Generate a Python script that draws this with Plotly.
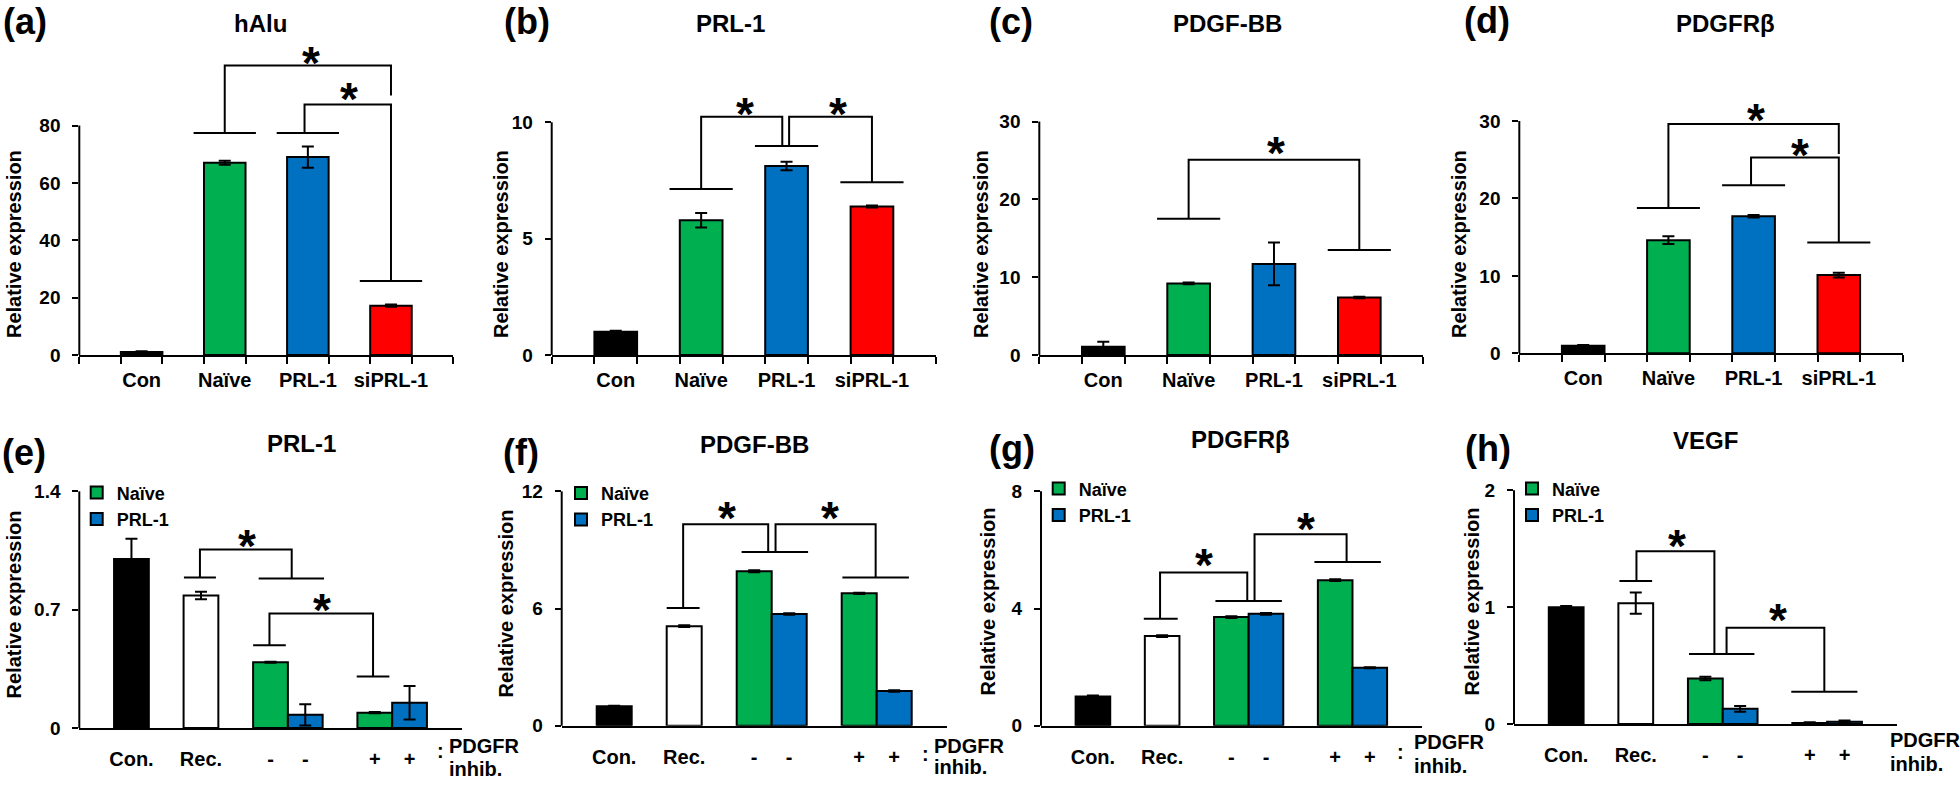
import plotly.graph_objects as go

W, H = 1960, 789
FONT = "'Liberation Sans', Arial, Helvetica, sans-serif"
GREEN, BLUE, RED, BLACK, WHITE = "#00B050", "#0070C0", "#FF0000", "#000000", "#FFFFFF"

# ---------------- data: top row (a)-(d) ----------------
top_categories = ["Con", "Naïve", "PRL-1", "siPRL-1"]
top_colors = [BLACK, GREEN, BLUE, RED]

a_title = "hAlu"
a_mean = [1.0, 67.0, 69.0, 17.2]
a_err = [0.3, 0.7, 3.7, 0.4]
b_title = "PRL-1"
b_mean = [1.0, 5.79, 8.12, 6.38]
b_err = [0.04, 0.31, 0.18, 0.04]
c_title = "PDGF-BB"
c_mean = [1.05, 9.2, 11.7, 7.4]
c_err = [0.65, 0.1, 2.75, 0.1]
d_title = "PDGFRβ"
d_mean = [0.98, 14.6, 17.7, 10.1]
d_err = [0.1, 0.5, 0.15, 0.3]

# ---------------- data: bottom row (e)-(h) ----------------
bottom_labels = ["Con.", "Rec.", "-", "-", "+", "+"]
bottom_pos = [1.5, 3.5, 5.5, 6.5, 8.5, 9.5]
series_names = ["Naïve", "PRL-1"]

e_title = "PRL-1"
e_mean = [1.0, 0.784, 0.389, 0.078, 0.091, 0.15]
e_err = [0.12, 0.022, 0.003, 0.063, 0.003, 0.099]
f_title = "PDGF-BB"
f_mean = [1.0, 5.1, 7.91, 5.72, 6.78, 1.78]
f_err = [0.02, 0.05, 0.05, 0.04, 0.03, 0.04]
g_title = "PDGFRβ"
g_mean = [1.0, 3.06, 3.71, 3.82, 4.97, 1.98]
g_err = [0.03, 0.03, 0.03, 0.03, 0.03, 0.02]
h_title = "VEGF"
h_mean = [1.0, 1.035, 0.39, 0.13, 0.01, 0.02]
h_err = [0.01, 0.09, 0.015, 0.025, 0.005, 0.01]

# ---------------- significance brackets (data coordinates) ----------------
# caps: (x centre, half width, y); legs: polylines; stars: (x, y)
a_caps = [(1, 0.375, 77.4), (2, 0.375, 77.4), (3, 0.375, 25.8)]
a_legs = [[(1, 77.4), (1, 100.9), (3, 100.9), (3, 90.5)],
          [(1.96, 77.4), (1.96, 87.3), (3, 87.3), (3, 25.8)]]
a_stars = [(2.04, 105.4), (2.5, 92.8)]

b_caps = [(1, 0.37, 7.13), (2, 0.37, 8.98), (3, 0.37, 7.42)]
b_legs = [[(1, 7.13), (1, 10.24), (1.95, 10.24), (1.95, 8.98)],
          [(2.03, 8.98), (2.03, 10.24), (3, 10.24), (3, 7.42)]]
b_stars = [(1.51, 10.8), (2.6, 10.8)]

c_caps = [(1, 0.37, 17.5), (3, 0.37, 13.5)]
c_legs = [[(1, 17.5), (1, 25.1), (3, 25.1), (3, 13.5)]]
c_stars = [(2.02, 27.2)]

d_caps = [(1, 0.37, 18.75), (2, 0.37, 21.7), (3, 0.37, 14.3)]
d_legs = [[(1, 18.75), (1, 29.6), (3, 29.6), (3, 25.75)],
          [(1.97, 21.7), (1.97, 25.3), (3, 25.3), (3, 14.3)]]
d_stars = [(2.03, 31.4), (2.55, 26.9)]

e_caps = [(3.47, 0.46, 0.89), (6.1, 0.94, 0.885), (5.47, 0.47, 0.49), (8.45, 0.47, 0.305)]
e_legs = [[(3.47, 0.89), (3.47, 1.056), (6.11, 1.056), (6.11, 0.885)],
          [(5.47, 0.49), (5.47, 0.677), (8.45, 0.677), (8.45, 0.305)]]
e_stars = [(4.83, 1.137), (6.97, 0.758)]

f_caps = [(3.47, 0.47, 6.03), (6.09, 0.95, 8.89), (8.97, 0.95, 7.59)]
f_legs = [[(3.47, 6.03), (3.47, 10.32), (5.9, 10.32), (5.9, 8.89)],
          [(6.11, 8.89), (6.11, 10.32), (8.97, 10.32), (8.97, 7.59)]]
f_stars = [(4.73, 11.16), (7.67, 11.16)]

g_caps = [(3.46, 0.49, 3.65), (6.0, 0.96, 4.26), (8.86, 0.96, 5.59)]
g_legs = [[(3.44, 3.65), (3.44, 5.23), (5.96, 5.23), (5.96, 4.26)],
          [(6.17, 4.26), (6.17, 6.54), (8.83, 6.54), (8.83, 5.59)]]
g_stars = [(4.70, 5.84), (7.66, 7.05)]

h_caps = [(3.5, 0.47, 1.224), (5.97, 0.94, 0.6), (8.92, 0.95, 0.276)]
h_legs = [[(3.52, 1.224), (3.52, 1.48), (5.76, 1.48), (5.76, 0.6)],
          [(6.11, 0.6), (6.11, 0.824), (8.92, 0.824), (8.92, 0.276)]]
h_stars = [(4.69, 1.61), (7.58, 0.98)]

# ---------------- layout geometry (pixels) ----------------
geom = {
    1: dict(xl=79.3, xr=453.3, y0=360.0, yt=127.3, top=40),
    2: dict(xl=551.7, xr=936.0, y0=360.0, yt=124.0, top=40),
    3: dict(xl=1039.3, xr=1423.3, y0=360.0, yt=123.3, top=40),
    4: dict(xl=1519.3, xr=1902.7, y0=358.3, yt=122.7, top=40),
    5: dict(xl=79.3, xr=461.7, y0=738.3, yt=498.3, top=470),
    6: dict(xl=561.7, xr=946.7, y0=736.0, yt=498.3, top=470),
    7: dict(xl=1041.0, xr=1421.7, y0=736.0, yt=498.3, top=470),
    8: dict(xl=1514.0, xr=1896.7, y0=734.3, yt=497.3, top=470),
}

panels = [
    # k, letter, title, mean, err, yticks, caps, legs, stars, letter_xy, title_xy, ytitle_xy
    (1, "(a)", a_title, a_mean, a_err, [0, 20, 40, 60, 80], a_caps, a_legs, a_stars, (25, 22), (260, 24), (14, 247.5)),
    (2, "(b)", b_title, b_mean, b_err, [0, 5, 10], b_caps, b_legs, b_stars, (527, 22), (730, 24), (501, 247.5)),
    (3, "(c)", c_title, c_mean, c_err, [0, 10, 20, 30], c_caps, c_legs, c_stars, (1011, 22), (1227.5, 24), (981, 247.5)),
    (4, "(d)", d_title, d_mean, d_err, [0, 10, 20, 30], d_caps, d_legs, d_stars, (1487, 21), (1725, 24), (1459, 247.5)),
    (5, "(e)", e_title, e_mean, e_err, [0, 0.7, 1.4], e_caps, e_legs, e_stars, (24, 459), (301.7, 450), (14, 613)),
    (6, "(f)", f_title, f_mean, f_err, [0, 6, 12], f_caps, f_legs, f_stars, (521, 459), (754, 451), (506, 612)),
    (7, "(g)", g_title, g_mean, g_err, [0, 4, 8], g_caps, g_legs, g_stars, (1012, 455), (1240.8, 446), (988, 610)),
    (8, "(h)", h_title, h_mean, h_err, [0, 1, 2], h_caps, h_legs, h_stars, (1488, 455), (1705, 446.7), (1472, 610)),
]

# legend placement: (square left px, first item centre px)
legend_pos = {5: (90.7, 494), 6: (575, 494.5), 7: (1052.7, 490), 8: (1526, 490)}
# "PDGFR inhib." label placement: (colon x or None, colon y, text left x, line1 y, line2 y)
inhib_pos = {5: (440, 762, 446.7, 757, 780), 6: (925, 765, 931.7, 757, 778),
             7: (1400.7, 763, 1411.7, 752, 777), 8: (None, 0, 1888.3, 750, 775)}


def font(size):
    return dict(family=FONT, size=size, color=BLACK, weight="bold")


def px_x(p):
    return p / W


def px_y(p):
    return 1 - p / H


fig = go.Figure()
annotations = []
shapes = []
layout_axes = {}
legend_names = {5: "legend", 6: "legend2", 7: "legend3", 8: "legend4"}

err_style = dict(type="data", color=BLACK, thickness=2, width=6)
bar_line = dict(color=BLACK, width=2)

for (k, letter, title, mean, err, yticks, caps, legs, stars, lxy, txy, yxy) in panels:
    xa = "x" if k == 1 else f"x{k}"
    ya = "y" if k == 1 else f"y{k}"
    gm = geom[k]
    scale = (gm["y0"] - gm["yt"]) / yticks[-1]
    ymax = (gm["y0"] - gm["top"]) / scale

    if k <= 4:
        fig.add_trace(go.Bar(
            x=list(range(len(top_categories))), y=mean,
            error_y=dict(array=err, **err_style),
            marker=dict(color=top_colors, line=bar_line), width=0.5,
            xaxis=xa, yaxis=ya, showlegend=False, hoverinfo="y"))
        xrange = [-0.75, len(top_categories) - 0.25]
        edges = [xrange[0]] + [v for i in range(len(top_categories)) for v in (i - 0.25, i + 0.25)] + [xrange[1]]
        xaxis = dict(tickmode="array", tickvals=list(range(len(top_categories))), ticktext=top_categories,
                     ticks="", ticklabelstandoff=6,
                     minor=dict(tickmode="array", tickvals=edges, ticks="outside", ticklen=7,
                                tickwidth=2, tickcolor=BLACK, showgrid=False))
    else:
        leg = legend_names[k]
        fig.add_trace(go.Bar(x=[bottom_pos[0]], y=[mean[0]], error_y=dict(array=[err[0]], **err_style),
                             marker=dict(color=BLACK, line=bar_line), width=1, name="Con.",
                             xaxis=xa, yaxis=ya, showlegend=False))
        fig.add_trace(go.Bar(x=[bottom_pos[1]], y=[mean[1]], error_y=dict(array=[err[1]], **err_style),
                             marker=dict(color=WHITE, line=bar_line), width=1, name="Rec.",
                             xaxis=xa, yaxis=ya, showlegend=False))
        fig.add_trace(go.Bar(x=[bottom_pos[2], bottom_pos[4]], y=[mean[2], mean[4]],
                             error_y=dict(array=[err[2], err[4]], **err_style),
                             marker=dict(color=GREEN, line=bar_line), width=1, name=series_names[0],
                             xaxis=xa, yaxis=ya, legend=leg, showlegend=True))
        fig.add_trace(go.Bar(x=[bottom_pos[3], bottom_pos[5]], y=[mean[3], mean[5]],
                             error_y=dict(array=[err[3], err[5]], **err_style),
                             marker=dict(color=BLUE, line=bar_line), width=1, name=series_names[1],
                             xaxis=xa, yaxis=ya, legend=leg, showlegend=True))
        xrange = [0, 11]
        xaxis = dict(tickmode="array", tickvals=bottom_pos, ticktext=bottom_labels,
                     ticks="", ticklabelstandoff=12)

    # significance brackets
    bx, by = [], []
    for (cx, hw, cy) in caps:
        bx += [cx - hw, cx + hw, None]
        by += [cy, cy, None]
    for poly in legs:
        bx += [p[0] for p in poly] + [None]
        by += [p[1] for p in poly] + [None]
    fig.add_trace(go.Scatter(x=bx, y=by, mode="lines", line=dict(color=BLACK, width=2),
                             xaxis=xa, yaxis=ya, showlegend=False, hoverinfo="skip"))
    for (sx, sy) in stars:
        annotations.append(dict(x=sx, y=sy, xref=xa, yref=ya, text="*", showarrow=False,
                                font=font(46), yshift=-10))

    xaxis.update(domain=[px_x(gm["xl"]), px_x(gm["xr"])], range=xrange, anchor=ya,
                 showline=True, linecolor=BLACK, linewidth=2, showgrid=False, zeroline=False,
                 tickfont=font(20), fixedrange=True)
    yaxis = dict(domain=[px_y(gm["y0"]), px_y(gm["top"])], range=[0, ymax], anchor=xa,
                 showline=False, showgrid=False, zeroline=False, ticks="outside", ticklen=6,
                 tickwidth=2, tickcolor=BLACK, tickmode="array", tickvals=yticks,
                 tickfont=font(19), ticklabelstandoff=8, fixedrange=True)
    layout_axes["xaxis" if k == 1 else f"xaxis{k}"] = xaxis
    layout_axes["yaxis" if k == 1 else f"yaxis{k}"] = yaxis

    # y axis line only up to the top tick
    shapes.append(dict(type="line", xref=f"{xa} domain", yref=f"{ya} domain",
                       x0=0, x1=0, y0=0, y1=yticks[-1] / ymax, line=dict(color=BLACK, width=2)))

    # texts
    annotations.append(dict(x=px_x(lxy[0]), y=px_y(lxy[1]), xref="paper", yref="paper", text=letter,
                            showarrow=False, font=font(36), xanchor="center", yanchor="middle"))
    annotations.append(dict(x=px_x(txy[0]), y=px_y(txy[1]), xref="paper", yref="paper", text=title,
                            showarrow=False, font=font(24), xanchor="center", yanchor="middle"))
    annotations.append(dict(x=px_x(yxy[0]), y=px_y(yxy[1]), xref="paper", yref="paper",
                            text="Relative expression", textangle=-90, showarrow=False, font=font(20),
                            xanchor="center", yanchor="middle"))
    if k > 4:
        cx_, cy_, tx_, l1, l2 = inhib_pos[k]
        if cx_ is not None:
            annotations.append(dict(x=px_x(cx_), y=px_y(cy_), xref="paper", yref="paper", text=":",
                                    showarrow=False, font=font(20), xanchor="center", yanchor="middle"))
        annotations.append(dict(x=px_x(tx_), y=px_y(l1), xref="paper", yref="paper", text="PDGFR",
                                showarrow=False, font=font(20), xanchor="left", yanchor="middle"))
        annotations.append(dict(x=px_x(tx_), y=px_y(l2), xref="paper", yref="paper", text="inhib.",
                                showarrow=False, font=font(20), xanchor="left", yanchor="middle"))

legends = {}
for k, name in legend_names.items():
    sq_left, c1 = legend_pos[k]
    legends[name] = dict(x=px_x(sq_left - 14), y=px_y(c1 - 13), xanchor="left", yanchor="top",
                         font=font(18), bgcolor="rgba(0,0,0,0)", borderwidth=0,
                         traceorder="normal", tracegroupgap=0)

fig.update_layout(
    width=W, height=H, margin=dict(l=0, r=0, t=0, b=0),
    paper_bgcolor=WHITE, plot_bgcolor=WHITE, barmode="overlay",
    font=dict(family=FONT, color=BLACK),
    annotations=annotations, shapes=shapes, **layout_axes, **legends,
)

fig.write_html("out.html", config={"displayModeBar": False},
               post_script="document.body.style.margin='0';")
